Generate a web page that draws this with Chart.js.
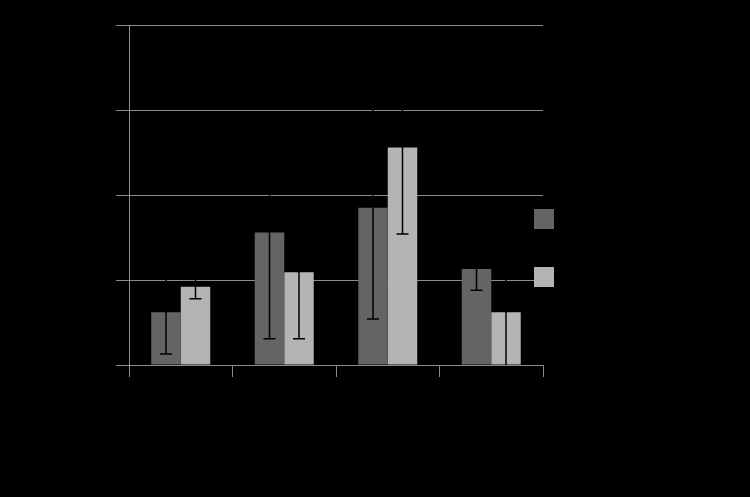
<!DOCTYPE html>
<html>
<head>
<meta charset="utf-8">
<script src="https://cdn.jsdelivr.net/npm/chart.js@4"></script>
<style>
  html, body { margin: 0; padding: 0; background: #000; }
  #wrap { width: 750px; height: 497px; }
</style>
</head>
<body>
<div id="wrap"><canvas id="chart" width="750" height="497"></canvas></div>
<script>
// Values (text in the original is black on black)
const categories = ["1", "2", "3", "4"];
const seriesNames = ["Series 1", "Series 2"];
const series1 = [0.62, 1.56, 1.85, 1.13];
const series2 = [0.92, 1.09, 2.56, 0.62];
const err1 = [0.49, 1.25, 1.31, 0.25];
const err2 = [0.14, 0.78, 1.02, 0.65];
const yTicks = [0, 1, 2, 3, 4];

const gridColor = '#8c8c8c';
const colors = ['#646464', '#b4b4b4'];

// error bars drawn over the bars (black whiskers)
const errorBars = {
  id: 'errorBars',
  afterDatasetsDraw(chart) {
    const { ctx, scales: { y } } = chart;
    const errs = [err1, err2];
    ctx.save();
    ctx.strokeStyle = '#000';
    ctx.lineWidth = 1.5;
    chart.data.datasets.forEach((ds, i) => {
      chart.getDatasetMeta(i).data.forEach((bar, j) => {
        const v = ds.data[j], e = errs[i][j];
        const top = y.getPixelForValue(v + e);
        const bot = y.getPixelForValue(Math.max(v - e, y.min));
        ctx.beginPath();
        ctx.moveTo(bar.x, top); ctx.lineTo(bar.x, bot);
        ctx.moveTo(bar.x - 6, top); ctx.lineTo(bar.x + 6, top);
        if (v - e > y.min) { ctx.moveTo(bar.x - 6, bot); ctx.lineTo(bar.x + 6, bot); }
        ctx.stroke();
      });
    });
    ctx.restore();
  }
};

// legend squares sit over the right end of the plot
const boxLegend = {
  id: 'boxLegend',
  afterDraw(chart) {
    const { ctx, chartArea } = chart;
    const x = chartArea.right - 9;
    const ys = [209, 267];
    ctx.save();
    chart.data.datasets.forEach((ds, i) => {
      ctx.fillStyle = ds.backgroundColor;
      ctx.fillRect(x, ys[i], 20, 20);
      ctx.fillStyle = '#000';
      ctx.font = '13px "Liberation Sans"';
      ctx.textBaseline = 'middle';
      ctx.fillText(ds.label, x + 26, ys[i] + 10);
    });
    ctx.restore();
  }
};

new Chart(document.getElementById('chart'), {
  type: 'bar',
  data: {
    labels: categories,
    datasets: [
      { label: seriesNames[0], data: series1, backgroundColor: colors[0] },
      { label: seriesNames[1], data: series2, backgroundColor: colors[1] }
    ]
  },
  options: {
    responsive: false,
    animation: false,
    layout: { padding: { top: 25, right: 207, left: 0, bottom: 0 } },
    datasets: { bar: { categoryPercentage: 0.57, barPercentage: 1.0 } },
    plugins: { legend: { display: false }, tooltip: { enabled: false } },
    scales: {
      x: {
        grid: { offset: true, drawOnChartArea: false, color: gridColor, tickLength: 12 },
        border: { color: gridColor },
        ticks: { color: '#000', font: { family: 'Liberation Sans', size: 13 } },
        afterFit: s => { s.height = 132; }
      },
      y: {
        min: yTicks[0], max: yTicks[yTicks.length - 1],
        afterBuildTicks: s => { s.ticks = yTicks.map(v => ({ value: v })); },
        grid: { color: gridColor, tickLength: 13 },
        border: { color: gridColor },
        ticks: { color: '#000', font: { family: 'Liberation Sans', size: 13 } },
        afterFit: s => { s.width = 129; }
      }
    }
  },
  plugins: [errorBars, boxLegend]
});
</script>
</body>
</html>
